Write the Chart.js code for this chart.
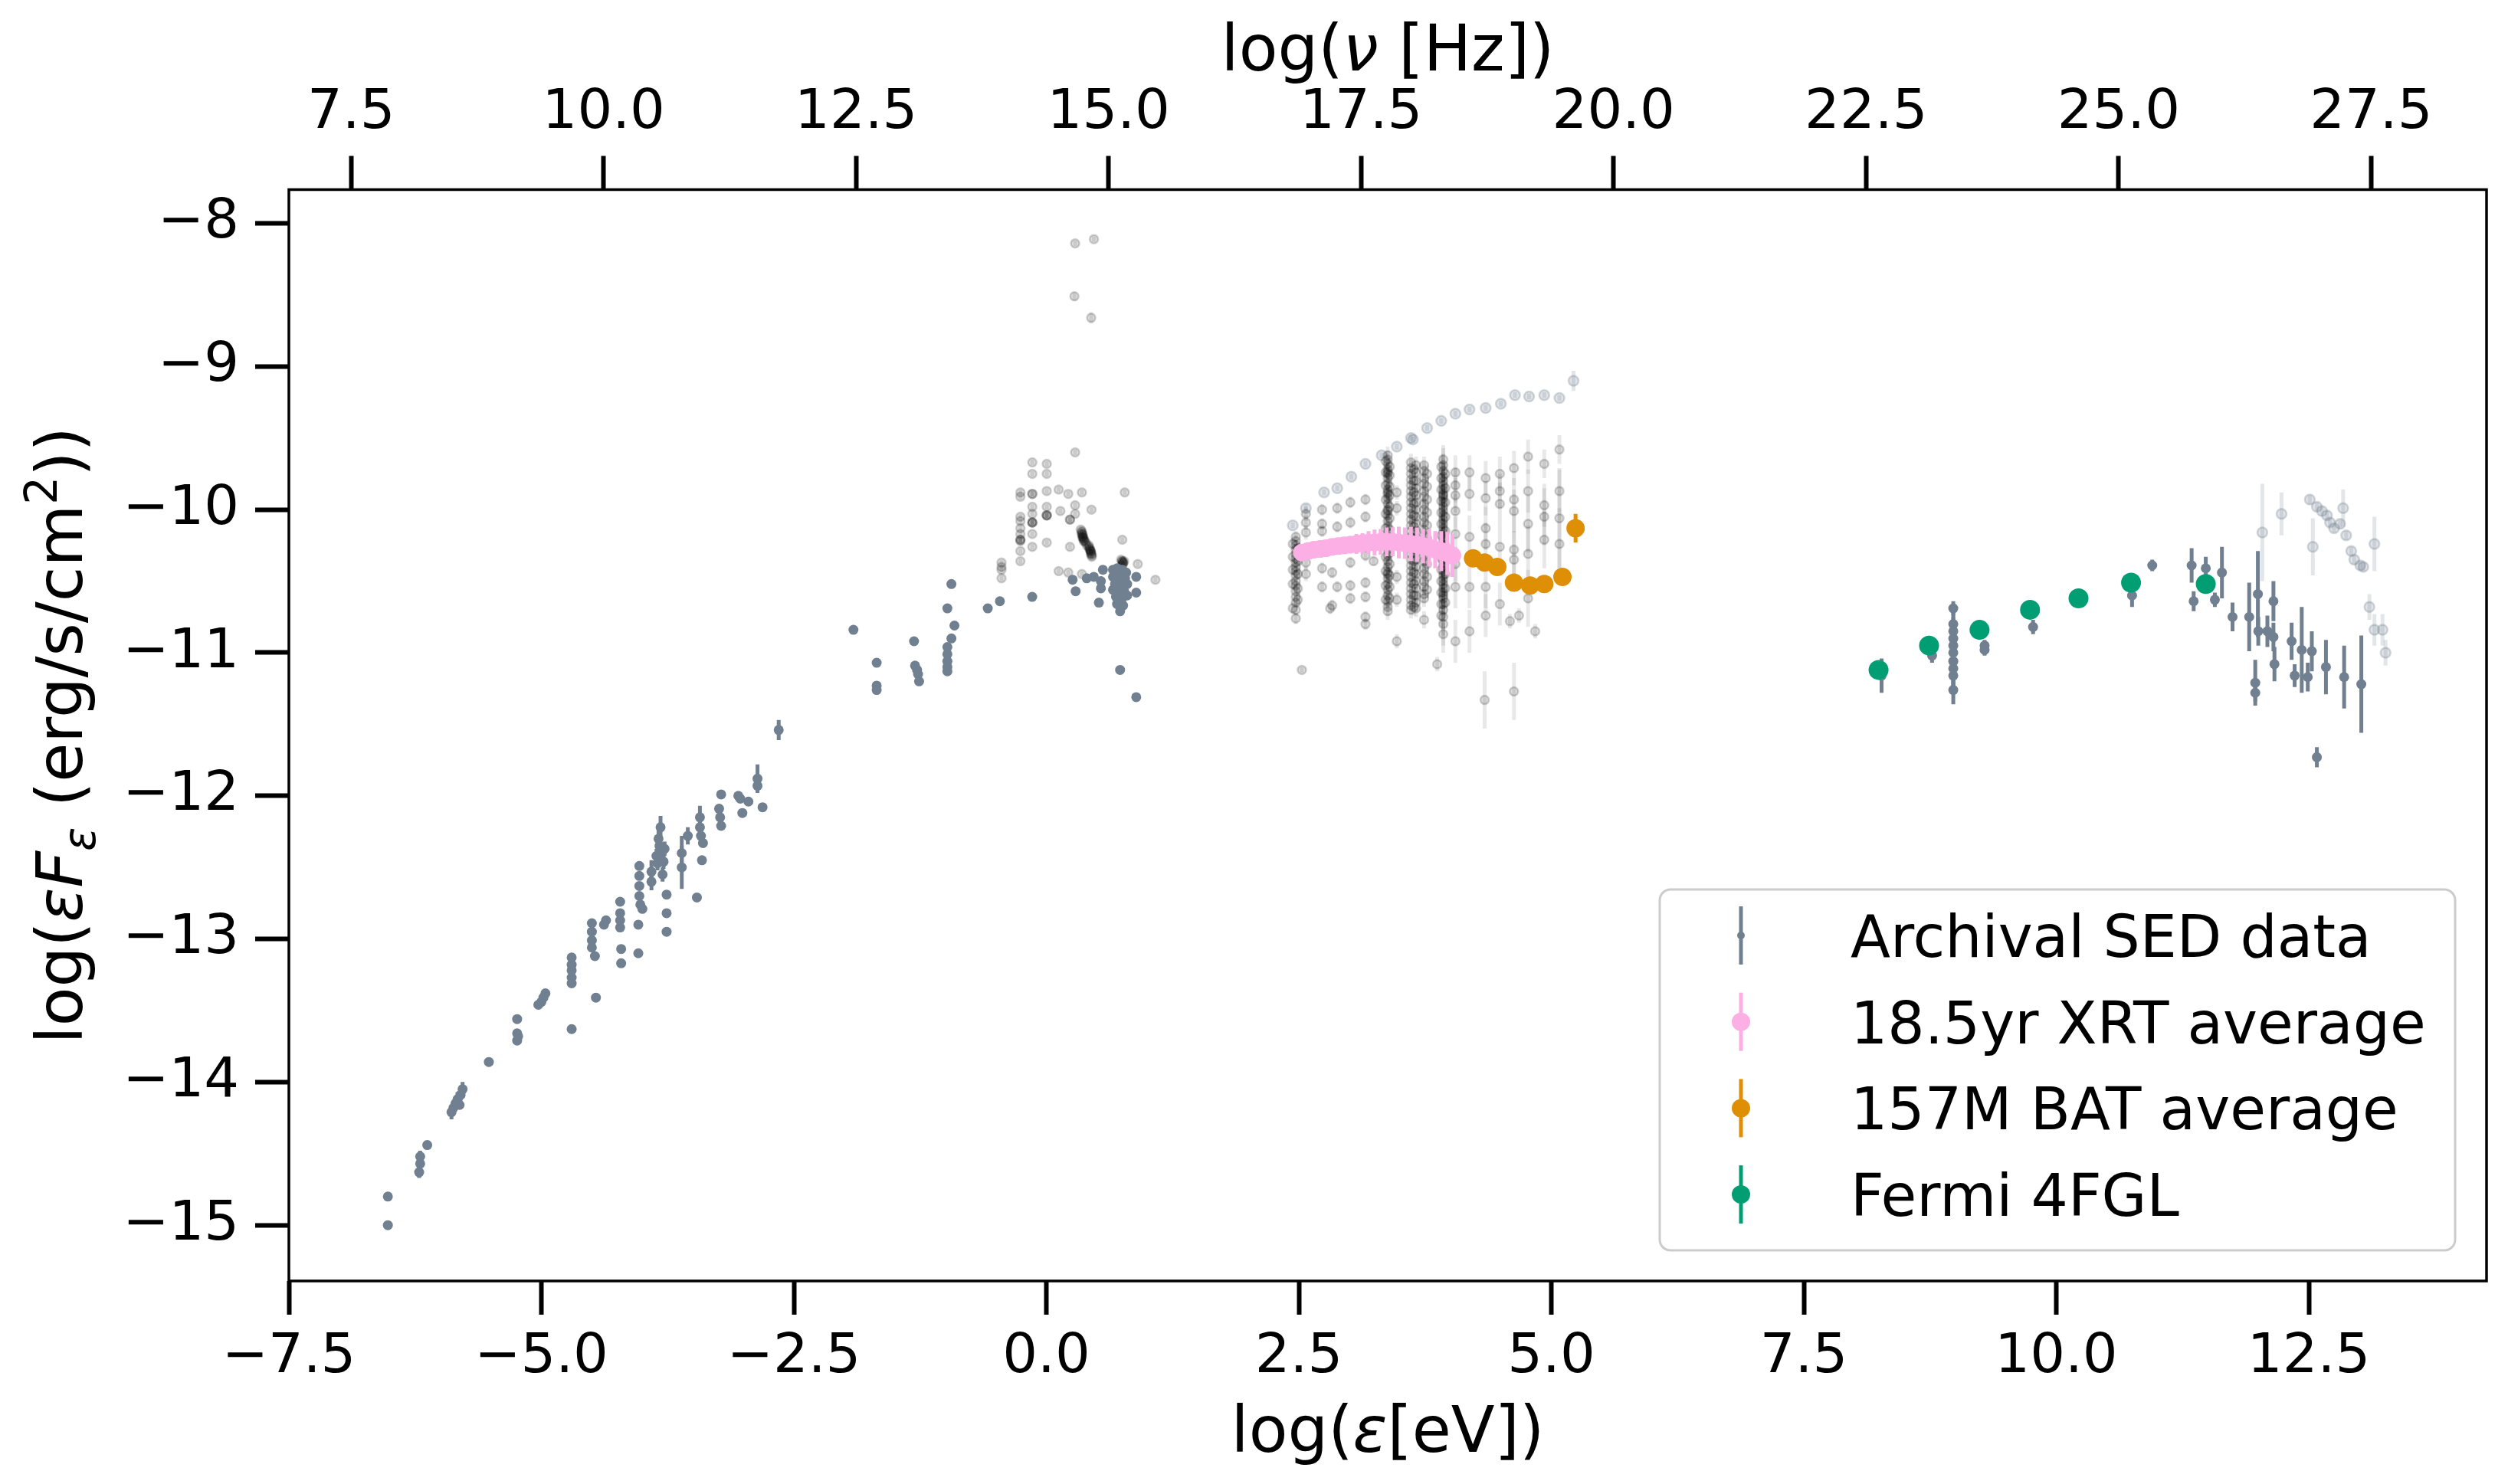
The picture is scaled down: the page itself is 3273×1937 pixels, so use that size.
<!DOCTYPE html>
<html>
<head>
<meta charset="utf-8">
<script src="https://cdn.jsdelivr.net/npm/chart.js@4.4.0/dist/chart.umd.min.js"></script>
<style>
html,body{margin:0;padding:0;background:#ffffff;}
#c{display:block;}
</style>
</head>
<body>
<canvas id="c" width="3273" height="1937"></canvas>
<script>
// ---------------- axis ranges & ticks ----------------
const X_MIN = -7.5, X_MAX = 14.26;
const Y_MIN = -15.39, Y_MAX = -7.764;
const HZ_OFFSET = 14.3835; // log10(1 eV / h)
const xTicks = [-7.5, -5, -2.5, 0, 2.5, 5, 7.5, 10, 12.5];
const xTopTicks = [7.5, 10, 12.5, 15, 17.5, 20, 22.5, 25, 27.5];
const yTicks = [-15, -14, -13, -12, -11, -10, -9, -8];

// ---------------- legend labels ----------------
const legendLabels = ['Archival SED data', '18.5yr XRT average', '157M BAT average', 'Fermi 4FGL'];

// ---------------- Swift-XRT average ----------------
const xrtX = [2.53,2.59,2.65,2.71,2.77,2.83,2.89,2.95,3.01,3.07,3.13,3.19,3.25,3.31,3.37,3.43,3.49,3.55,3.61,3.67,3.73,3.79,3.85,3.91,3.97,4.02];
const xrtY = [-10.30,-10.29,-10.28,-10.275,-10.27,-10.26,-10.255,-10.25,-10.245,-10.24,-10.235,-10.23,-10.23,-10.225,-10.225,-10.225,-10.23,-10.235,-10.24,-10.245,-10.255,-10.265,-10.28,-10.29,-10.305,-10.32];
const xrtErr = [0.02,0.02,0.02,0.02,0.03,0.03,0.04,0.05,0.06,0.07,0.07,0.08,0.09,0.09,0.10,0.10,0.11,0.11,0.12,0.12,0.12,0.13,0.13,0.14,0.15,0.15];

// ---------------- Swift-BAT 157 month ----------------
const batX = [4.225, 4.34, 4.465, 4.63, 4.79, 4.93, 5.11, 5.24];
const batY = [-10.34, -10.37, -10.40, -10.51, -10.53, -10.52, -10.47, -10.13];
const batErr = [0.02, 0.02, 0.03, 0.03, 0.04, 0.04, 0.05, 0.10];

// ---------------- Fermi 4FGL ----------------
const fermiX = [8.24, 8.74, 9.24, 9.74, 10.22, 10.74, 11.48];
const fermiY = [-11.12, -10.95, -10.84, -10.70, -10.62, -10.51, -10.52];
const fermiErr = [0.06, 0.03, 0.03, 0.03, 0.03, 0.04, 0.06];

// ---------------- Archival SED data [x, y, yerr] ----------------
const archivalRadio = [
[-6.52,-15.00,0.03],[-6.52,-14.80,0.03],[-6.20,-14.52,0.04],[-6.20,-14.57,0.04],[-6.21,-14.63,0.04],[-6.13,-14.44,0.03],
[-5.89,-14.21,0.05],[-5.87,-14.18,0.04],[-5.85,-14.15,0.04],[-5.83,-14.12,0.05],[-5.80,-14.09,0.04],[-5.78,-14.05,0.05],[-5.81,-14.16,0.03],
[-5.52,-13.86,0.03],[-5.24,-13.56,0.03],[-5.24,-13.66,0.03],[-5.24,-13.71,0.03],[-5.23,-13.68,0.03],
[-5.03,-13.46,0.03],[-5.00,-13.44,0.03],[-4.98,-13.41,0.03],[-4.96,-13.38,0.03],
[-4.70,-13.13,0.03],[-4.70,-13.18,0.03],[-4.70,-13.22,0.03],[-4.70,-13.27,0.03],[-4.70,-13.31,0.03],[-4.70,-13.63,0.03],
[-4.46,-13.41,0.03],[-4.50,-12.89,0.03],[-4.50,-12.95,0.03],[-4.50,-13.01,0.03],[-4.50,-13.06,0.03],[-4.47,-13.12,0.03],
[-4.36,-12.87,0.03],[-4.38,-12.90,0.03],[-4.22,-12.74,0.03],[-4.22,-12.82,0.03],[-4.22,-12.87,0.03],[-4.22,-12.92,0.03],
[-4.21,-13.07,0.03],[-4.21,-13.17,0.03],[-4.04,-12.90,0.03],[-4.04,-13.10,0.03],
[-4.03,-12.49,0.03],[-4.03,-12.56,0.03],[-4.03,-12.63,0.03],[-4.03,-12.70,0.03],[-4.02,-12.76,0.03],[-4.00,-12.79,0.03],
[-3.91,-12.53,0.08],[-3.91,-12.60,0.06],
[-3.84,-12.30,0.08],[-3.82,-12.22,0.08],[-3.83,-12.35,0.05],[-3.81,-12.40,0.05],[-3.79,-12.46,0.05],[-3.85,-12.47,0.05],
[-3.80,-12.55,0.05],[-3.86,-12.42,0.05],[-3.78,-12.37,0.05],
[-3.76,-12.69,0.03],[-3.76,-12.82,0.03],[-3.76,-12.95,0.03],
[-3.61,-12.40,0.12],[-3.61,-12.50,0.15],[-3.55,-12.28,0.06],[-3.46,-12.71,0.03],[-3.41,-12.45,0.03],
[-3.43,-12.15,0.08],[-3.43,-12.22,0.05],[-3.42,-12.28,0.05],[-3.40,-12.33,0.03],
[-3.22,-11.99,0.03],[-3.24,-12.09,0.03],[-3.23,-12.15,0.03],[-3.22,-12.21,0.03],
[-3.05,-12.00,0.03],[-3.03,-12.02,0.03],[-3.01,-12.12,0.03],[-2.95,-12.04,0.03],[-2.81,-12.08,0.03],
[-2.86,-11.88,0.10],[-2.86,-11.93,0.04],[-2.65,-11.54,0.07]
];
const archivalOptical = [
[-1.91,-10.84,0.02],[-1.68,-11.07,0.02],[-1.68,-11.23,0.02],[-1.68,-11.26,0.02],
[-1.31,-10.92,0.02],[-1.30,-11.09,0.02],[-1.28,-11.12,0.02],[-1.27,-11.15,0.02],[-1.26,-11.20,0.02],
[-0.98,-10.96,0.02],[-0.98,-11.01,0.02],[-0.98,-11.06,0.02],[-0.98,-11.10,0.02],[-0.98,-11.13,0.02],[-0.98,-10.69,0.02],
[-0.94,-10.52,0.02],[-0.91,-10.81,0.02],[-0.94,-10.90,0.02],[-0.58,-10.69,0.02],[-0.46,-10.64,0.02],[-0.14,-10.61,0.02],
[0.26,-10.49,0.02],[0.29,-10.57,0.02],[0.40,-10.48,0.02],[0.47,-10.47,0.02],[0.54,-10.50,0.02],[0.54,-10.55,0.02],
[0.52,-10.65,0.02],[0.56,-10.42,0.02],
[0.66,-10.42,0.02],[0.70,-10.41,0.02],[0.75,-10.42,0.02],[0.79,-10.44,0.02],[0.66,-10.47,0.02],[0.72,-10.47,0.02],
[0.78,-10.48,0.02],[0.68,-10.52,0.02],[0.74,-10.52,0.02],[0.80,-10.52,0.02],[0.66,-10.56,0.02],[0.71,-10.57,0.02],
[0.77,-10.57,0.02],[0.69,-10.61,0.02],[0.75,-10.62,0.02],[0.80,-10.60,0.02],[0.70,-10.66,0.02],[0.76,-10.67,0.02],[0.73,-10.71,0.02],
[0.89,-10.47,0.02],[0.89,-10.58,0.02],[0.73,-11.12,0.02],[0.89,-11.31,0.02]
];
const archivalGamma = [
[8.27,-11.16,0.12],[8.77,-11.02,0.05],[8.98,-10.69,0.05],
[8.98,-10.80,0.10],[8.98,-10.85,0.10],[8.98,-10.90,0.12],[8.98,-10.95,0.12],[8.98,-11.00,0.12],[8.98,-11.06,0.13],
[8.98,-11.11,0.13],[8.98,-11.16,0.13],[8.98,-11.26,0.10],
[9.29,-10.95,0.04],[9.29,-10.98,0.04],[9.77,-10.82,0.05],[10.75,-10.60,0.08],[10.95,-10.39,0.04],
[11.34,-10.39,0.12],[11.36,-10.64,0.07],[11.48,-10.41,0.08],[11.57,-10.63,0.05],[11.64,-10.44,0.18],
[11.745,-10.75,0.10],[11.91,-10.75,0.24],[11.996,-10.59,0.30],[12.0,-10.85,0.10],[11.97,-11.21,0.16],[11.97,-11.28,0.06],
[12.09,-10.85,0.11],[12.15,-10.64,0.14],[12.15,-10.89,0.10],[12.16,-11.08,0.12],[12.33,-10.92,0.13],[12.36,-11.16,0.08],
[12.43,-10.98,0.30],[12.49,-11.17,0.10],[12.53,-10.99,0.14],[12.58,-11.73,0.07],[12.67,-11.10,0.19],
[12.85,-11.17,0.22],[13.02,-11.22,0.34]
];

// ---------------- faint (older) archival points [x, y, yerr] ----------------
const faintXray = [
[2.44,-10.11,0.02],[2.57,-9.99,0.03],[2.75,-9.88,0.02],[2.88,-9.85,0.02],[3.02,-9.77,0.02],[3.16,-9.68,0.02],
[3.32,-9.62,0.02],[3.47,-9.56,0.02],[3.61,-9.50,0.02],[3.63,-9.51,0.02],[3.77,-9.43,0.02],[3.91,-9.38,0.02],
[4.05,-9.33,0.02],[4.19,-9.30,0.02],[4.35,-9.29,0.02],[4.50,-9.26,0.02],[4.64,-9.20,0.02],[4.78,-9.21,0.02],
[4.93,-9.20,0.02],[5.08,-9.22,0.02],[5.22,-9.10,0.07]
];
const faintGamma = [
[12.04,-10.16,0.34],[12.23,-10.03,0.15],[12.51,-9.93,0.03],[12.58,-9.98,0.03],[12.63,-10.01,0.03],[12.68,-10.04,0.03],
[12.71,-10.09,0.03],[12.75,-10.13,0.03],[12.81,-10.10,0.03],[12.84,-9.99,0.13],[12.87,-10.18,0.03],[12.54,-10.26,0.20],
[12.92,-10.29,0.03],[12.95,-10.35,0.03],[13.01,-10.39,0.03],[13.04,-10.40,0.03],[13.15,-10.24,0.19],[13.10,-10.68,0.09],
[13.15,-10.84,0.11],[13.23,-10.84,0.11],[13.26,-11.00,0.09]
];

// ---------------- individual-epoch points (black, translucent) [x, y, yerr] ----------------
const epochOptical = [
[0.285,-8.14,0.02],[0.471,-8.11,0.02],[0.278,-8.51,0.03],[0.444,-8.66,0.04],
[0.285,-9.60,0.02],[-0.139,-9.67,0.02],[0.004,-9.68,0.02],[-0.139,-9.75,0.02],[0.004,-9.75,0.02],
[-0.257,-9.88,0.02],[-0.257,-9.91,0.02],[-0.139,-9.89,0.02],[-0.139,-9.89,0.02],[0.004,-9.87,0.02],[0.122,-9.86,0.02],
[0.217,-9.89,0.02],[0.352,-9.88,0.02],[0.776,-9.88,0.02],
[-0.257,-10.05,0.02],[-0.257,-10.08,0.02],[-0.257,-10.13,0.02],[-0.257,-10.17,0.02],[-0.257,-10.21,0.02],[-0.257,-10.22,0.02],
[-0.257,-10.21,0.02],[-0.257,-10.29,0.02],[-0.257,-10.36,0.02],
[-0.139,-9.98,0.02],[-0.139,-10.03,0.02],[-0.139,-10.09,0.02],[-0.139,-10.09,0.02],[-0.139,-10.09,0.02],[-0.139,-10.17,0.02],[-0.139,-10.26,0.02],
[0.004,-9.98,0.02],[0.004,-10.04,0.02],[0.004,-10.04,0.02],[0.004,-10.04,0.02],[0.004,-10.23,0.02],
[-0.444,-10.37,0.02],[-0.444,-10.40,0.02],[-0.444,-10.42,0.02],[-0.444,-10.48,0.02],
[0.139,-10.01,0.02],[0.234,-10.07,0.02],[0.234,-10.07,0.02],[0.285,-9.97,0.02],[0.285,-10.03,0.02],[0.447,-10.00,0.02],
[0.234,-10.26,0.02],[0.122,-10.43,0.02],[0.217,-10.44,0.02],[0.352,-10.45,0.02],
[1.08,-10.49,0.02],[0.752,-10.21,0.02],[0.905,-10.38,0.02],
[0.34,-10.14,0.02],[0.35,-10.15,0.02],[0.35,-10.16,0.02],[0.35,-10.17,0.02],[0.36,-10.17,0.02],[0.36,-10.18,0.02],
[0.36,-10.19,0.02],[0.36,-10.19,0.02],[0.36,-10.20,0.02],[0.37,-10.20,0.02],[0.37,-10.21,0.02],[0.37,-10.22,0.02],
[0.38,-10.22,0.02],[0.39,-10.23,0.02],[0.40,-10.25,0.02],
[0.42,-10.25,0.02],[0.42,-10.26,0.02],[0.43,-10.27,0.02],[0.43,-10.28,0.02],[0.43,-10.28,0.02],[0.44,-10.29,0.02],
[0.44,-10.29,0.02],[0.44,-10.30,0.02],[0.44,-10.31,0.02],[0.45,-10.31,0.02],[0.45,-10.32,0.02],[0.45,-10.33,0.02],
[0.74,-10.35,0.02],[0.75,-10.36,0.02],[0.75,-10.36,0.02],[0.76,-10.37,0.02],[0.76,-10.37,0.02],[0.76,-10.38,0.02],
[0.77,-10.36,0.02],[0.75,-10.39,0.02]
];
const epochXray = [
[2.53,-11.12,0.02],
[2.57,-10.03,0.05],[2.57,-10.09,0.05],[2.57,-10.16,0.05],[2.57,-10.37,0.05],[2.57,-10.45,0.05],
[2.73,-10.00,0.04],[2.73,-10.10,0.04],[2.73,-10.15,0.04],[2.73,-10.41,0.04],[2.73,-10.54,0.04],
[2.83,-10.44,0.04],[2.83,-10.67,0.04],[2.81,-10.69,0.04],
[2.88,-9.99,0.04],[2.88,-10.12,0.04],[2.88,-10.54,0.04],
[3.01,-9.95,0.04],[3.01,-10.09,0.04],[3.01,-10.37,0.04],[3.01,-10.53,0.04],[3.01,-10.62,0.04],
[3.16,-9.93,0.04],[3.16,-10.05,0.04],[3.16,-10.32,0.04],[3.16,-10.51,0.04],[3.16,-10.61,0.04],[3.16,-10.75,0.04],[3.16,-10.80,0.04],
[3.24,-10.36,0.03],
[3.47,-9.88,0.05],[3.47,-9.99,0.05],[3.47,-10.47,0.05],[3.47,-10.63,0.05],[3.47,-10.92,0.05],
[3.87,-11.08,0.05],[3.93,-10.60,0.40],[3.93,-9.90,0.35],
[4.05,-9.74,0.12],[4.05,-9.83,0.12],[4.05,-9.90,0.12],[4.05,-10.01,0.12],[4.05,-10.17,0.12],[4.05,-10.38,0.12],[4.05,-10.54,0.15],[4.05,-10.92,0.15],
[4.19,-9.74,0.12],[4.19,-9.89,0.12],[4.19,-10.19,0.15],[4.19,-10.54,0.15],[4.19,-10.85,0.15],
[4.35,-9.78,0.12],[4.35,-9.92,0.12],[4.35,-10.13,0.15],[4.35,-10.24,0.15],[4.35,-10.54,0.15],[4.35,-10.74,0.15],
[4.49,-9.75,0.12],[4.49,-9.87,0.12],[4.49,-9.96,0.15],[4.49,-10.26,0.15],[4.49,-10.66,0.15],
[4.59,-10.78,0.05],
[4.63,-9.71,0.12],[4.63,-9.93,0.15],[4.63,-10.01,0.15],[4.63,-10.28,0.20],[4.63,-10.35,0.20],
[4.68,-10.74,0.05],
[4.77,-9.63,0.12],[4.77,-9.87,0.15],[4.77,-10.10,0.20],[4.77,-10.31,0.20],[4.77,-10.62,0.20],
[4.84,-10.85,0.05],
[4.93,-9.68,0.10],[4.93,-9.97,0.15],[4.93,-10.05,0.20],[4.93,-10.21,0.20],
[5.08,-9.58,0.10],[5.08,-9.87,0.15],[5.08,-10.06,0.35],[5.08,-10.24,0.25],
[4.34,-11.33,0.20],[4.63,-11.27,0.20]
];
// dense X-ray columns: column energy and the fluxes stacked in it
const epochColumnX = [2.47, 2.44, 2.49, 3.36, 3.38, 3.40, 3.61, 3.64, 3.66, 3.74, 3.77, 3.91, 3.93, 3.95];
const epochColumnY = [
[-10.19,-10.22,-10.25,-10.28,-10.31,-10.34,-10.37,-10.40,-10.43,-10.46,-10.50,-10.53,-10.57,-10.61,-10.65,-10.70,-10.76],
[-10.24,-10.33,-10.42,-10.52,-10.69],
[-10.27,-10.36,-10.45,-10.55,-10.63],
[-9.66,-9.74,-9.83,-9.93,-10.03,-10.13,-10.23,-10.33,-10.43,-10.53,-10.63],
[-9.62,-9.65,-9.68,-9.72,-9.74,-9.75,-9.78,-9.82,-9.86,-9.88,-9.89,-9.92,-9.96,-10.00,-10.01,-10.04,-10.08,-10.12,-10.16,-10.20,-10.24,-10.28,-10.32,-10.36,-10.40,-10.44,-10.45,-10.48,-10.52,-10.56,-10.60,-10.64,-10.68,-10.71],
[-9.70,-9.76,-9.84,-9.90,-9.98,-10.06,-10.14,-10.22,-10.30,-10.38,-10.46,-10.54,-10.62],
[-9.67,-9.71,-9.75,-9.79,-9.83,-9.87,-9.91,-9.95,-9.99,-10.03,-10.07,-10.11,-10.15,-10.19,-10.23,-10.27,-10.31,-10.35,-10.39,-10.43,-10.47,-10.51,-10.55,-10.59,-10.63,-10.67,-10.70],
[-9.72,-9.80,-9.88,-9.96,-10.04,-10.12,-10.20,-10.28,-10.36,-10.44,-10.52,-10.60,-10.68],
[-9.69,-9.74,-9.80,-9.85,-9.90,-9.95,-10.00,-10.05,-10.10,-10.15,-10.20,-10.25,-10.30,-10.35,-10.40,-10.45,-10.50,-10.55,-10.60,-10.65,-10.69],
[-9.69,-9.73,-9.78,-9.82,-9.87,-9.91,-9.96,-10.00,-10.05,-10.09,-10.14,-10.18,-10.23,-10.27,-10.32,-10.36,-10.41,-10.45,-10.50,-10.54,-10.59,-10.62,-10.77],
[-9.75,-9.84,-9.93,-10.02,-10.11,-10.20,-10.29,-10.38,-10.47,-10.56],
[-9.70,-9.78,-9.86,-9.94,-10.02,-10.10,-10.18,-10.26,-10.34,-10.42,-10.50,-10.58,-10.66,-10.74],
[-9.65,-9.69,-9.73,-9.77,-9.80,-9.83,-9.86,-9.89,-9.92,-9.95,-9.98,-10.01,-10.04,-10.07,-10.10,-10.13,-10.16,-10.19,-10.22,-10.25,-10.28,-10.31,-10.34,-10.37,-10.40,-10.43,-10.46,-10.49,-10.52,-10.55,-10.58,-10.62,-10.66,-10.70,-10.75,-10.80,-10.87],
[-9.75,-9.85,-9.95,-10.05,-10.15,-10.25,-10.35,-10.45,-10.55,-10.65]
];
const epochColumnErr = [0.04, 0.04, 0.04, 0.06, 0.06, 0.06, 0.06, 0.06, 0.06, 0.06, 0.06, 0.08, 0.08, 0.08];

// ---------------- build data tables ----------------
function pts(xs, ys) { return xs.map((x, i) => ({x: x, y: ys[i]})); }
function triplePts(arr) { return arr.map(p => ({x: p[0], y: p[1]})); }
function tripleErr(arr) { return arr.map(p => p[2]); }
const archival = archivalRadio.concat(archivalOptical, archivalGamma);
const faint = faintXray.concat(faintGamma);
const epochCols = [];
epochColumnX.forEach((cx, i) => epochColumnY[i].forEach(y => epochCols.push([cx, y, epochColumnErr[i]])));
const epoch = epochOptical.concat(epochXray, epochCols);

const FONT = 'DejaVu Sans';
const fmtMinus = s => s.replace('-', '\u2212');

// ---------------- plugins ----------------
const errorBars = {
  id: 'errorBars',
  beforeDatasetDraw(chart, args) {
    const ds = chart.data.datasets[args.index];
    if (!ds.yerr) return;
    const {ctx, chartArea: a} = chart;
    const xs = chart.scales.x, ys = chart.scales.y;
    ctx.save();
    ctx.beginPath();
    ctx.rect(a.left, a.top, a.right - a.left, a.bottom - a.top);
    ctx.clip();
    ctx.strokeStyle = ds.errColor;
    ctx.lineWidth = ds.errWidth;
    ctx.lineCap = 'butt';
    ds.data.forEach((p, i) => {
      const e = ds.yerr[i];
      if (!e) return;
      const px = xs.getPixelForValue(p.x);
      ctx.beginPath();
      ctx.moveTo(px, ys.getPixelForValue(p.y - e));
      ctx.lineTo(px, ys.getPixelForValue(p.y + e));
      ctx.stroke();
    });
    ctx.restore();
  }
};

function richWidth(ctx, parts, size) {
  let w = 0;
  parts.forEach(p => {
    const s = (p.sub || p.sup) ? Math.round(size * 0.7) : size;
    ctx.font = (p.it ? 'italic ' : '') + s + 'px "' + FONT + '"';
    p.w = ctx.measureText(p.t).width;
    w += p.w;
  });
  return w;
}
function drawRich(ctx, parts, size) {
  const total = richWidth(ctx, parts, size);
  let x = -total / 2;
  parts.forEach(p => {
    const s = (p.sub || p.sup) ? Math.round(size * 0.7) : size;
    ctx.font = (p.it ? 'italic ' : '') + s + 'px "' + FONT + '"';
    const dy = p.sub ? size * 0.2 : (p.sup ? -size * 0.4 : 0);
    ctx.fillText(p.t, x, dy);
    x += p.w;
  });
}

const decorations = {
  id: 'decorations',
  afterDatasetsDraw(chart) {
    const {ctx, chartArea: a} = chart;
    ctx.save();
    ctx.strokeStyle = '#000';
    ctx.lineWidth = 3.5;
    ctx.strokeRect(a.left, a.top, a.right - a.left, a.bottom - a.top);
    ctx.restore();
  },
  afterDraw(chart) {
    const {ctx, chartArea: a} = chart;
    const cx = (a.left + a.right) / 2;
    const cy = (a.top + a.bottom) / 2;
    const size = 83;
    ctx.save();
    ctx.fillStyle = '#000';
    ctx.textBaseline = 'alphabetic';
    ctx.textAlign = 'left';
    // bottom title
    ctx.save(); ctx.translate(cx, 1895);
    drawRich(ctx, [{t: 'log('}, {t: '\u03b5', it: true}, {t: '[eV])'}], size);
    ctx.restore();
    // top title
    ctx.save(); ctx.translate(cx, 92);
    drawRich(ctx, [{t: 'log('}, {t: '\u03bd', it: true}, {t: ' [Hz])'}], size);
    ctx.restore();
    // y title
    ctx.save(); ctx.translate(107, cy); ctx.rotate(-Math.PI / 2);
    drawRich(ctx, [{t: 'log('}, {t: '\u03b5F', it: true}, {t: '\u03b5', it: true, sub: true},
                   {t: ' (erg/s/cm'}, {t: '2', sup: true}, {t: '))'}], size);
    ctx.restore();

    // legend
    const bx = 2166, by = 1161, bw = 1038, bh = 471;
    ctx.beginPath();
    ctx.roundRect(bx, by, bw, bh, 14);
    ctx.fillStyle = 'rgba(255,255,255,0.85)';
    ctx.fill();
    ctx.lineWidth = 3;
    ctx.strokeStyle = '#cccccc';
    ctx.stroke();
    const entries = chart.data.datasets.filter(d => d.inLegend).sort((p, q) => p.legendRank - q.legendRank);
    entries.forEach((d, i) => {
      const yc = 1221 + i * 112.7;
      const hx = 2272;
      ctx.strokeStyle = d.borderColor;
      ctx.lineWidth = 5;
      ctx.beginPath(); ctx.moveTo(hx, yc - 38); ctx.lineTo(hx, yc + 38); ctx.stroke();
      ctx.fillStyle = d.backgroundColor;
      ctx.beginPath(); ctx.arc(hx, yc, d.legendDot, 0, Math.PI * 2); ctx.fill();
      ctx.fillStyle = '#000';
      ctx.font = '76px "' + FONT + '"';
      ctx.fillText(d.label, 2415, yc + 28);
    });
    ctx.restore();
  }
};

// ---------------- chart ----------------
const tickFont = {family: FONT, size: 72};
const gridOpts = {display: true, drawOnChartArea: false, drawTicks: true, tickLength: 44, tickWidth: 6, tickColor: '#000'};

new Chart(document.getElementById('c'), {
  type: 'scatter',
  data: {
    datasets: [
      {label: legendLabels[3], inLegend: true, legendRank: 3, legendDot: 12,
       data: pts(fermiX, fermiY), yerr: fermiErr, errColor: '#029e73', errWidth: 5,
       backgroundColor: '#029e73', borderColor: '#029e73', borderWidth: 0, pointRadius: 13, order: 0},
      {label: legendLabels[2], inLegend: true, legendRank: 2, legendDot: 12,
       data: pts(batX, batY), yerr: batErr, errColor: '#de8f05', errWidth: 5,
       backgroundColor: '#de8f05', borderColor: '#de8f05', borderWidth: 0, pointRadius: 12, order: 1},
      {label: legendLabels[1], inLegend: true, legendRank: 1, legendDot: 12,
       data: pts(xrtX, xrtY), yerr: xrtErr, errColor: '#fbafe4', errWidth: 5,
       backgroundColor: '#fbafe4', borderColor: '#fbafe4', borderWidth: 0, pointRadius: 11.5, order: 2},
      {label: legendLabels[0], inLegend: true, legendRank: 0, legendDot: 5,
       data: triplePts(archival), yerr: tripleErr(archival), errColor: '#708090', errWidth: 5,
       backgroundColor: '#708090', borderColor: '#708090', borderWidth: 0, pointRadius: 6.5, order: 3},
      {label: 'archival epochs', inLegend: false,
       data: triplePts(epoch), yerr: tripleErr(epoch), errColor: 'rgba(0,0,0,0.09)', errWidth: 5,
       backgroundColor: 'rgba(0,0,0,0.13)', borderColor: 'rgba(0,0,0,0.18)', borderWidth: 2.5, pointRadius: 5.5, order: 4},
      {label: 'archival faint', inLegend: false,
       data: triplePts(faint), yerr: tripleErr(faint), errColor: 'rgba(112,128,144,0.2)', errWidth: 5,
       backgroundColor: 'rgba(112,128,144,0.22)', borderColor: 'rgba(112,128,144,0.3)', borderWidth: 2.5, pointRadius: 6.5, order: 5}
    ]
  },
  options: {
    responsive: false,
    animation: false,
    devicePixelRatio: 1,
    events: [],
    layout: {padding: {left: 0, right: 28, top: 0, bottom: 0}},
    plugins: {legend: {display: false}, tooltip: {enabled: false}},
    elements: {point: {pointStyle: 'circle', hoverRadius: 0}},
    scales: {
      x: {
        type: 'linear', position: 'bottom', min: X_MIN, max: X_MAX,
        afterBuildTicks: s => { s.ticks = xTicks.map(v => ({value: v})); },
        afterFit: s => { s.height = 265; },
        ticks: {callback: v => fmtMinus(Number(v).toFixed(1)), font: tickFont, color: '#000', padding: 13,
                autoSkip: false, maxRotation: 0, minRotation: 0},
        grid: gridOpts, border: {display: false}
      },
      x2: {
        type: 'linear', axis: 'x', position: 'top', min: X_MIN + HZ_OFFSET, max: X_MAX + HZ_OFFSET,
        afterBuildTicks: s => { s.ticks = xTopTicks.map(v => ({value: v})); },
        afterFit: s => { s.height = 247.5; },
        ticks: {callback: v => fmtMinus(Number(v).toFixed(1)), font: tickFont, color: '#000', padding: 12,
                autoSkip: false, maxRotation: 0, minRotation: 0},
        grid: gridOpts, border: {display: false}
      },
      y: {
        type: 'linear', position: 'left', min: Y_MIN, max: Y_MAX,
        afterBuildTicks: s => { s.ticks = yTicks.map(v => ({value: v})); },
        afterFit: s => { s.width = 377; },
        ticks: {callback: v => fmtMinus(String(v)), font: tickFont, color: '#000', padding: 21, autoSkip: false},
        grid: gridOpts, border: {display: false}
      }
    }
  },
  plugins: [errorBars, decorations]
});
</script>
</body>
</html>
